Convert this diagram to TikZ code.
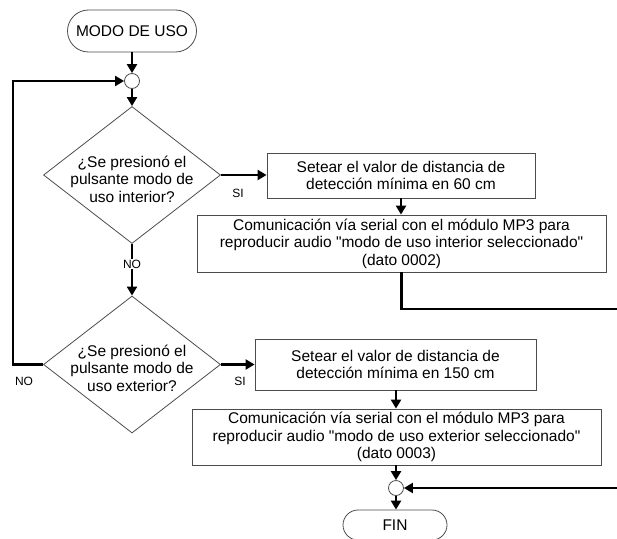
\documentclass[tikz,border=0pt]{standalone}
\usepackage{fontspec}
\setmainfont{Liberation Sans}[Ligatures=TeXOff]
\usetikzlibrary{shapes.geometric,arrows.meta}
\begin{document}
\begin{tikzpicture}[x=1pt,y=-1pt,
  font=\fontsize{15.5}{17.5}\selectfont,
  conn/.style={line width=2.2pt,-{Triangle[length=9pt,width=10pt]}},
  border/.style={draw=black!70,line width=0.8pt},
  proc/.style={border,align=center,inner sep=0pt},
  term/.style={border,inner sep=0pt},
  junc/.style={border,circle,minimum size=15pt,inner sep=0pt},
  dec/.style={border,diamond,minimum width=177pt,minimum height=137pt,inner sep=0pt},
  dtext/.style={align=center,inner sep=0pt},
  lab/.style={font=\fontsize{12}{13}\selectfont,inner sep=1pt}]
\useasboundingbox (0,0) rectangle (617,538);

\node[term,rounded corners=21pt,minimum width=129pt,minimum height=42pt] (start) at (132,31) {MODO DE USO};
\node[junc] (c1) at (132,81) {};
\node[dec] (d1) at (132,175) {};
\node[dtext] (d1t) at (132,179) {¿Se presionó el\\pulsante modo de\\uso interior?};
\node[proc,minimum width=268pt,minimum height=45pt] (b1) at (401,175.5) {Setear el valor de distancia de\\detección mínima en 60 cm};
\node[proc,minimum width=409pt,minimum height=57pt] (b2) at (401.5,243.5) {Comunicación vía serial con el módulo MP3 para\\reproducir audio "modo de uso interior seleccionado"\\(dato 0002)};
\node[dec] (d2) at (132,364.5) {};
\node[dtext] (d2t) at (132,368) {¿Se presionó el\\pulsante modo de\\uso exterior?};
\node[proc,minimum width=281pt,minimum height=51pt] (b3) at (395.5,364.5) {Setear el valor de distancia de\\detección mínima en 150 cm};
\node[proc,minimum width=409pt,minimum height=56pt] (b4) at (396.5,437) {Comunicación vía serial con el módulo MP3 para\\reproducir audio "modo de uso exterior seleccionado"\\(dato 0003)};
\node[junc] (c2) at (396,488) {};
\node[term,rounded corners=15pt,minimum width=104pt,minimum height=30pt] (fin) at (395,525) {FIN};

\coordinate (r1) at (622,309);
\coordinate (r2) at (622,488);
\coordinate (l1) at (13,364.5);
\coordinate (l2) at (13,81);

\draw[conn] (start.south) -- (c1.north);
\draw[conn] (c1.south) -- (d1.north);
\draw[conn] (d1.east) -- (b1.west |- d1.east);
\draw[conn] (b1.south) -- (b1.south |- b2.north);
\draw[conn] (b2.south) |- (r1) -- (r2) -- (c2.east);
\draw[conn] (d1.south) -- (d2.north);
\node[lab,fill=white] (no1) at (132,264) {NO};
\draw[conn] (d2.west) -- (l1) -- (l2) -- (c1.west);
\draw[conn] (d2.east) -- (b3.west |- d2.east);
\draw[conn] (b3.south -| c2) -- (b4.north -| c2);
\draw[conn] (b4.south -| c2) -- (c2.north);
\draw[conn] (c2.south) -- (fin.north -| c2);

\node[lab] (si1) at (238,193) {SI};
\node[lab] (si2) at (240,381) {SI};
\node[lab] (no2) at (24,381) {NO};
\end{tikzpicture}
\end{document}
